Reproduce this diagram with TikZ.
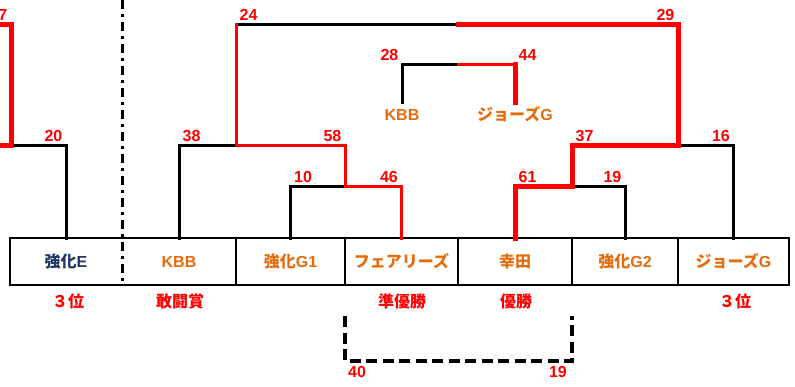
\documentclass[tikz,border=0pt]{standalone}
\usepackage{fontspec}
\setmainfont{Liberation Sans}
\newfontfamily\jp{Noto Sans CJK JP}
\definecolor{teamorange}{HTML}{E46C0A}
\definecolor{teamnavy}{HTML}{1F3864}
\begin{document}
\begin{tikzpicture}[x=1pt,y=-1pt,
        team/.style={minimum height=47pt,inner sep=0pt,outer sep=0pt,text=teamorange,font=\bfseries\fontsize{16}{18}\selectfont},
        midteam/.style={text=teamorange,font=\bfseries\fontsize{16}{18}\selectfont,text height=12pt,text depth=0pt,inner xsep=0pt,inner ysep=6pt},
        prize/.style={text=red,font=\jp\bfseries\fontsize{16}{18}\selectfont},
        score/.style={text=red,inner sep=0pt,font=\bfseries\fontsize{16}{18}\selectfont},
        lscore/.style={score,anchor=base west,xshift=3.5pt,yshift=3.5pt},
        rscore/.style={score,anchor=base east,xshift=-3.5pt,yshift=3.5pt},
        lose/.style={line width=3pt,line cap=rect},
        win/.style={red,line width=3pt,line cap=rect},
        champ/.style={red,line width=5pt,line cap=rect},
        boxline/.style={line width=2pt},
        divider/.style={line width=3pt,dash pattern=on 9pt off 5pt on 3pt off 5pt},
        dashlink/.style={line width=3.5pt,dash pattern=on 11pt off 5.5pt}]
    \useasboundingbox (0,0) rectangle (795,386);

    % Team row
    \node[team,minimum width=112pt,text=teamnavy] (tE) at (66,261.5) {{\jp 強化}E};
    \node[team,minimum width=114pt] (tK) at (179,261.5) {KBB};
    \node[team,minimum width=109pt] (tG1) at (290.5,261.5) {{\jp 強化}G1};
    \node[team,minimum width=113pt] (tF) at (401.5,261.5) {\jp フェアリーズ};
    \node[team,minimum width=114pt] (tKo) at (515,261.5) {\jp 幸田};
    \node[team,minimum width=106pt] (tG2) at (625,261.5) {{\jp 強化}G2};
    \node[team,minimum width=111pt] (tJ) at (733.5,261.5) {{\jp ジョーズ}G};
    \draw[boxline] (tE.north west) -- (tJ.north east) -- (tJ.south east) -- (tE.south west) -- cycle;
    \foreach \n in {tG1,tF,tKo,tG2,tJ}
        \draw[boxline] (\n.north west) -- (\n.south west);

    % Prizes under the row
    \node[prize] (pE) at (68,301) {３位};
    \node[prize] (pK) at (180,301) {敢闘賞};
    \node[prize] (pF) at (402,301) {準優勝};
    \node[prize] (pKo) at (516,301) {優勝};
    \node[prize] (pJ) at (735,301) {３位};

    % Match points
    \coordinate (a0) at (11,145);
    \coordinate (a1) at (345,186);
    \coordinate (a2) at (236,145);
    \coordinate (a3) at (572,186);
    \coordinate (a4) at (678,145);
    \coordinate (a5) at (458,24);
    \coordinate (a6) at (458,64);
    \coordinate (l0) at (0,145);
    \coordinate (l1) at (0,24);

    % Losing lines first, winners drawn over them
    \draw[lose] (tE.north) |- (a0);
    \draw[lose] (tK.north) |- (a2);
    \draw[lose] (tG1.north) |- (a1);
    \draw[lose] (tG2.north) |- (a3);
    \draw[lose] (tJ.north) |- (a4);
    \draw[lose] (a2 |- a5) -- (a5);
    \draw[win] (tF.north) |- (a1) |- (a2) -- (a2 |- a5);
    \draw[champ] (a5) -| (a4) -| (a3) -| (tKo.north);
    \draw[champ] (l0) -- (a0) |- (l1);

    % Extra game above the bracket
    \node[midteam] (mK) at (402,114.5) {KBB};
    \node[midteam] (mJ) at (515,114.5) {{\jp ジョーズ}G};
    \draw[lose] (mK.north) |- (a6);
    \draw[win] (a6) -- (mJ.north |- a6);
    \draw[champ] (mJ.north |- a6) -- (mJ.north);

    % Scores
    \node[rscore] (s7) at (a0 |- l1) {7};
    \node[rscore] (s20) at (tE.north |- a0) {20};
    \node[lscore] (s38) at (tK.north |- a2) {38};
    \node[rscore] (s58) at (a1 |- a2) {58};
    \node[lscore] (s10) at (tG1.north |- a1) {10};
    \node[rscore] (s46) at (tF.north |- a1) {46};
    \node[lscore] (s24) at (a2 |- a5) {24};
    \node[rscore] (s29) at (a4 |- a5) {29};
    \node[rscore] (s28) at (mK.north |- a6) {28};
    \node[lscore] (s44) at (mJ.north |- a6) {44};
    \node[lscore] (s37) at (a3 |- a4) {37};
    \node[rscore] (s16) at (tJ.north |- a4) {16};
    \node[lscore] (s61) at (tKo.north |- a3) {61};
    \node[rscore] (s19a) at (tG2.north |- a3) {19};

    % Dash-dot split on the left
    \draw[divider] (tE.north east |- l1) ++(0,-24) -- (tE.south east);

    % Dashed pair below
    \coordinate (d0) at (345,316);
    \coordinate (d2) at (572,361);
    \coordinate (d3) at (572,316);
    \draw[dashlink] (d0) |- (d2) -- (d3);
    \node[score,anchor=north west,xshift=3pt,yshift=-5pt] (s40) at (d0 |- d2) {40};
    \node[score,anchor=north east,xshift=-5pt,yshift=-5pt] (s19b) at (d2) {19};
\end{tikzpicture}
\end{document}
